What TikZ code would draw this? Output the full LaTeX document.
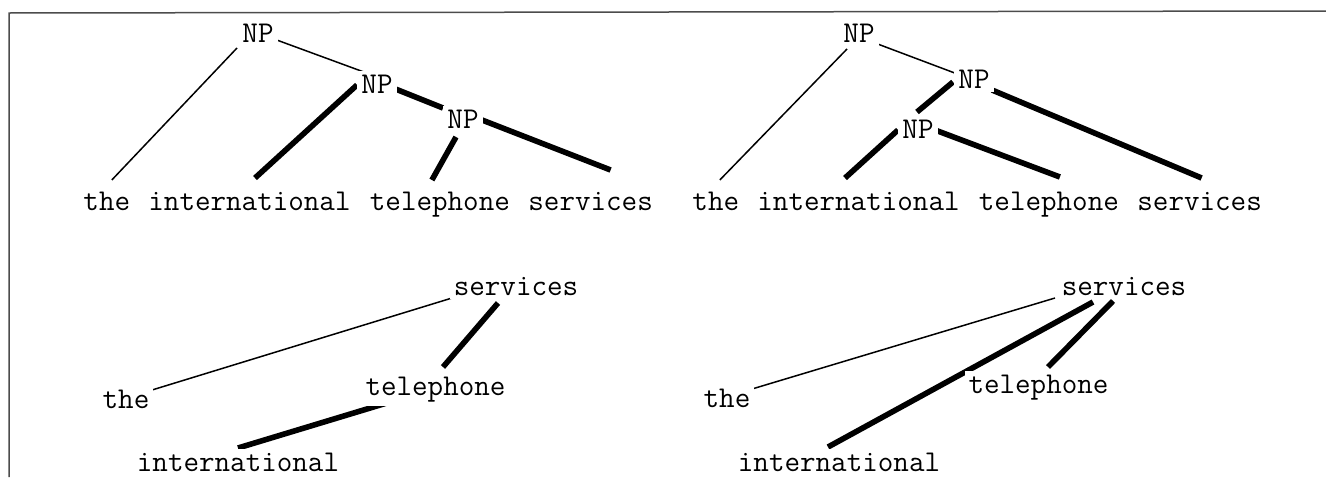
\documentclass[tikz,border=0pt]{standalone}
\usepackage{fontspec}
\usetikzlibrary{backgrounds}
\begin{document}
\begin{tikzpicture}[x=0.5pt,y=-0.5pt,
  word/.style={font=\ttfamily\fontsize{15.1}{18}\selectfont, inner sep=2pt, fill=white, anchor=base},
  light/.style={line width=0.75pt, black},
  heavy/.style={line width=2.8pt, black},
  frameline/.style={line width=0.75pt, black!70}]
\useasboundingbox (0,0) rectangle (1326,477);
% top-left tree
\node[word] (p1) at (258,42) {NP};
\node[word] (p2) at (377,93) {NP};
\node[word] (p3) at (463,128) {NP};
\node[word] (w1) at (106.8,210) {the};
\node[word] (w2) at (249.5,210) {international};
\node[word] (w3) at (439.9,210) {telephone};
\node[word] (w4) at (590.6,210) {services};
% top-right tree
\node[word] (q1) at (859,42) {NP};
\node[word] (q2) at (974,88) {NP};
\node[word] (q3) at (918,138) {NP};
\node[word] (v1) at (715.8,210) {the};
\node[word] (v2) at (858.5,210) {international};
\node[word] (v3) at (1048.9,210) {telephone};
\node[word] (v4) at (1199.6,210) {services};
% bottom-left
\node[word] (r4) at (516,295) {services};
\node[word] (r3) at (435.5,395) {telephone};
\node[word] (r1) at (126,408) {the};
\node[word] (r2) at (238,471) {international};
% bottom-right
\node[word] (s4) at (1124,295) {services};
\node[word] (s3) at (1038.5,393) {telephone};
\node[word] (s1) at (727,407) {the};
\node[word] (s2) at (839,471) {international};
\begin{pgfonlayer}{background}
\draw[frameline] (9,477) -- (9,13) -- (1326,11);
% top-left
\draw[light] ([shift={(-21,6)}]p1.base) -- ([shift={(5,-30)}]w1.base);
\draw[light] ([shift={(16,-3)}]p1.base) -- ([shift={(-5,-18)}]p2.base);
\draw[heavy] ([shift={(-20,-8)}]p2.base) -- ([shift={(5.5,-32)}]w2.base);
\draw[heavy] ([shift={(16,-5)}]p2.base) -- ([shift={(-20,-20)}]p3.base);
\draw[heavy] ([shift={(-7,9)}]p3.base) -- ([shift={(-8,-30)}]w3.base);
\draw[heavy] ([shift={(19,-8)}]p3.base) -- ([shift={(20,-40)}]w4.base);
% top-right
\draw[light] ([shift={(-12,7)}]q1.base) -- ([shift={(4,-30)}]v1.base);
\draw[light] ([shift={(16,1)}]q1.base) -- ([shift={(-14,-13)}]q2.base);
\draw[heavy] ([shift={(-21,-6)}]q2.base) -- ([shift={(-1,-26)}]q3.base);
\draw[heavy] ([shift={(-20,-8)}]q3.base) -- ([shift={(-13.5,-32)}]v2.base);
\draw[heavy] ([shift={(17,-8)}]q3.base) -- ([shift={(11,-33)}]v3.base);
\draw[heavy] ([shift={(18,2)}]q2.base) -- ([shift={(2,-32)}]v4.base);
% bottom-left
\draw[light] ([shift={(-64,3)}]r4.base) -- ([shift={(26,-18)}]r1.base);
\draw[heavy] ([shift={(-18,8)}]r4.base) -- ([shift={(7.5,-28)}]r3.base);
\draw[heavy] ([shift={(-45.5,7)}]r3.base) -- ([shift={(0,-23)}]r2.base);
% bottom-right
\draw[light] ([shift={(-69,3)}]s4.base) -- ([shift={(25,-18)}]s1.base);
\draw[heavy] ([shift={(-31,7)}]s4.base) -- ([shift={(-11,-24)}]s2.base);
\draw[heavy] ([shift={(-11,6)}]s4.base) -- ([shift={(9.5,-26)}]s3.base);
\end{pgfonlayer}
\end{tikzpicture}
\end{document}
